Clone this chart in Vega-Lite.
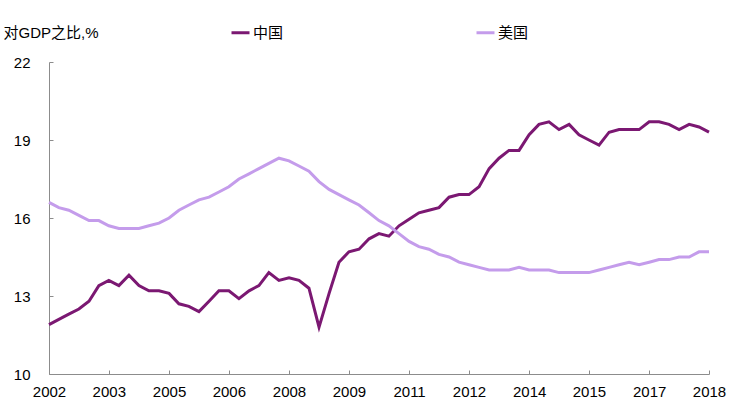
{
  "$schema": "https://vega.github.io/schema/vega-lite/v6.json",
  "width": 660,
  "height": 312,
  "autosize": {"type": "none"},
  "padding": {"left": 49, "top": 62, "right": 23, "bottom": 46},
  "background": "white",
  "config": {
    "view": {"stroke": null},
    "font": "Liberation Sans, Noto Sans CJK SC",
    "axis": {"labelFont": "Liberation Sans, Noto Sans CJK SC", "titleFont": "Liberation Sans, Noto Sans CJK SC"},
    "legend": {"labelFont": "Liberation Sans, Noto Sans CJK SC"}
  },
  "data": {
    "values": [
      {"date": "2002-01-01", "中国": 11.9, "美国": 16.6},
      {"date": "2002-04-01", "中国": 12.1, "美国": 16.4},
      {"date": "2002-07-01", "中国": 12.3, "美国": 16.3},
      {"date": "2002-10-01", "中国": 12.5, "美国": 16.1},
      {"date": "2003-01-01", "中国": 12.8, "美国": 15.9},
      {"date": "2003-04-01", "中国": 13.4, "美国": 15.9},
      {"date": "2003-07-01", "中国": 13.6, "美国": 15.7},
      {"date": "2003-10-01", "中国": 13.4, "美国": 15.6},
      {"date": "2004-01-01", "中国": 13.8, "美国": 15.6},
      {"date": "2004-04-01", "中国": 13.4, "美国": 15.6},
      {"date": "2004-07-01", "中国": 13.2, "美国": 15.7},
      {"date": "2004-10-01", "中国": 13.2, "美国": 15.8},
      {"date": "2005-01-01", "中国": 13.1, "美国": 16.0},
      {"date": "2005-04-01", "中国": 12.7, "美国": 16.3},
      {"date": "2005-07-01", "中国": 12.6, "美国": 16.5},
      {"date": "2005-10-01", "中国": 12.4, "美国": 16.7},
      {"date": "2006-01-01", "中国": 12.8, "美国": 16.8},
      {"date": "2006-04-01", "中国": 13.2, "美国": 17.0},
      {"date": "2006-07-01", "中国": 13.2, "美国": 17.2},
      {"date": "2006-10-01", "中国": 12.9, "美国": 17.5},
      {"date": "2007-01-01", "中国": 13.2, "美国": 17.7},
      {"date": "2007-04-01", "中国": 13.4, "美国": 17.9},
      {"date": "2007-07-01", "中国": 13.9, "美国": 18.1},
      {"date": "2007-10-01", "中国": 13.6, "美国": 18.3},
      {"date": "2008-01-01", "中国": 13.7, "美国": 18.2},
      {"date": "2008-04-01", "中国": 13.6, "美国": 18.0},
      {"date": "2008-07-01", "中国": 13.3, "美国": 17.8},
      {"date": "2008-10-01", "中国": 11.8, "美国": 17.4},
      {"date": "2009-01-01", "中国": 13.1, "美国": 17.1},
      {"date": "2009-04-01", "中国": 14.3, "美国": 16.9},
      {"date": "2009-07-01", "中国": 14.7, "美国": 16.7},
      {"date": "2009-10-01", "中国": 14.8, "美国": 16.5},
      {"date": "2010-01-01", "中国": 15.2, "美国": 16.2},
      {"date": "2010-04-01", "中国": 15.4, "美国": 15.9},
      {"date": "2010-07-01", "中国": 15.3, "美国": 15.7},
      {"date": "2010-10-01", "中国": 15.7, "美国": 15.4},
      {"date": "2011-01-01", "中国": 15.95, "美国": 15.1},
      {"date": "2011-04-01", "中国": 16.2, "美国": 14.9},
      {"date": "2011-07-01", "中国": 16.3, "美国": 14.8},
      {"date": "2011-10-01", "中国": 16.4, "美国": 14.6},
      {"date": "2012-01-01", "中国": 16.8, "美国": 14.5},
      {"date": "2012-04-01", "中国": 16.9, "美国": 14.3},
      {"date": "2012-07-01", "中国": 16.9, "美国": 14.2},
      {"date": "2012-10-01", "中国": 17.2, "美国": 14.1},
      {"date": "2013-01-01", "中国": 17.9, "美国": 14.0},
      {"date": "2013-04-01", "中国": 18.3, "美国": 14.0},
      {"date": "2013-07-01", "中国": 18.6, "美国": 14.0},
      {"date": "2013-10-01", "中国": 18.6, "美国": 14.1},
      {"date": "2014-01-01", "中国": 19.2, "美国": 14.0},
      {"date": "2014-04-01", "中国": 19.6, "美国": 14.0},
      {"date": "2014-07-01", "中国": 19.7, "美国": 14.0},
      {"date": "2014-10-01", "中国": 19.4, "美国": 13.9},
      {"date": "2015-01-01", "中国": 19.6, "美国": 13.9},
      {"date": "2015-04-01", "中国": 19.2, "美国": 13.9},
      {"date": "2015-07-01", "中国": 19.0, "美国": 13.9},
      {"date": "2015-10-01", "中国": 18.8, "美国": 14.0},
      {"date": "2016-01-01", "中国": 19.3, "美国": 14.1},
      {"date": "2016-04-01", "中国": 19.4, "美国": 14.2},
      {"date": "2016-07-01", "中国": 19.4, "美国": 14.3},
      {"date": "2016-10-01", "中国": 19.4, "美国": 14.2},
      {"date": "2017-01-01", "中国": 19.7, "美国": 14.3},
      {"date": "2017-04-01", "中国": 19.7, "美国": 14.4},
      {"date": "2017-07-01", "中国": 19.6, "美国": 14.4},
      {"date": "2017-10-01", "中国": 19.4, "美国": 14.5},
      {"date": "2018-01-01", "中国": 19.6, "美国": 14.5},
      {"date": "2018-04-01", "中国": 19.5, "美国": 14.7},
      {"date": "2018-07-01", "中国": 19.3, "美国": 14.7}
    ]
  },
  "transform": [{"fold": ["中国", "美国"], "as": ["country", "value"]}],
  "mark": {"type": "line", "strokeWidth": 3, "strokeJoin": "miter"},
  "encoding": {
    "x": {
      "field": "date",
      "type": "temporal",
      "scale": {"type": "utc", "domain": [{"year": 2002, "month": 1, "date": 1, "utc": true}, {"year": 2018, "month": 7, "date": 1, "utc": true}]},
      "axis": {
        "title": null,
        "grid": false,
        "labelExpr": "utcFormat(datum.value, '%Y')",
        "values": [
          {"year": 2002, "month": 1, "date": 1, "utc": true},
          {"year": 2003, "month": 7, "date": 1, "utc": true},
          {"year": 2005, "month": 1, "date": 1, "utc": true},
          {"year": 2006, "month": 7, "date": 1, "utc": true},
          {"year": 2008, "month": 1, "date": 1, "utc": true},
          {"year": 2009, "month": 7, "date": 1, "utc": true},
          {"year": 2011, "month": 1, "date": 1, "utc": true},
          {"year": 2012, "month": 7, "date": 1, "utc": true},
          {"year": 2014, "month": 1, "date": 1, "utc": true},
          {"year": 2015, "month": 7, "date": 1, "utc": true},
          {"year": 2017, "month": 1, "date": 1, "utc": true},
          {"year": 2018, "month": 7, "date": 1, "utc": true}
        ],
        "domainColor": "#8c8c8c",
        "tickColor": "#8c8c8c",
        "tickSize": -4,
        "labelPadding": 14,
        "labelFontSize": 15,
        "labelColor": "#000000",
        "labelFlush": false,
        "labelOverlap": false
      }
    },
    "y": {
      "field": "value",
      "type": "quantitative",
      "scale": {"domain": [10, 22], "nice": false, "zero": false},
      "axis": {
        "title": "对GDP之比,%",
        "titleAngle": 0,
        "titleAlign": "left",
        "titleBaseline": "middle",
        "titleX": -46,
        "titleY": -30,
        "titleFontSize": 15,
        "titleFontWeight": "normal",
        "titleColor": "#000000",
        "grid": false,
        "values": [10, 13, 16, 19, 22],
        "domainColor": "#8c8c8c",
        "tickColor": "#8c8c8c",
        "tickSize": -4,
        "labelPadding": 23,
        "labelFontSize": 15,
        "labelColor": "#000000"
      }
    },
    "color": {
      "field": "country",
      "type": "nominal",
      "sort": ["中国", "美国"],
      "scale": {"domain": ["中国", "美国"], "range": ["#7B1872", "#C49CEB"]},
      "legend": {
        "title": null,
        "orient": "none",
        "legendX": 181,
        "legendY": -40,
        "direction": "horizontal",
        "symbolType": "stroke",
        "symbolSize": 324,
        "symbolStrokeWidth": 3,
        "labelFontSize": 15,
        "labelColor": "#000000",
        "labelOffset": 2,
        "columnPadding": 186
      }
    }
  }
}
